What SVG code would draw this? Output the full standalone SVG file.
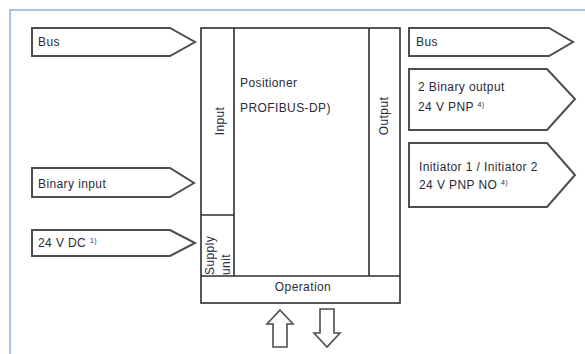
<svg xmlns="http://www.w3.org/2000/svg" width="585" height="354" viewBox="0 0 585 354">
<style>
.frame{fill:none;stroke:#8fb0dc;stroke-width:1.5}
.box{fill:#fff;stroke:#2e2e2e;stroke-width:1.6}
.ln{stroke:#2e2e2e;stroke-width:1.6;fill:none}
.sig{fill:#fff;stroke:#4d4d4d;stroke-width:2;stroke-linejoin:miter}
.harr{fill:#fff;stroke:#4d4d4d;stroke-width:1.6}
text{font-family:"Liberation Sans",Arial,sans-serif;font-size:12px;fill:#2a2a3a;letter-spacing:0.4px}
.sup{font-size:7px}
</style>
<rect class="frame" x="10" y="10" width="600" height="400"/>

<g id="positioner">
<rect class="box" x="201" y="28" width="199" height="275"/>
<line class="ln" x1="234" y1="28" x2="234" y2="276"/>
<line class="ln" x1="369" y1="28" x2="369" y2="276"/>
<line class="ln" x1="201" y1="276" x2="400" y2="276"/>
<line class="ln" x1="201" y1="215" x2="234" y2="215"/>
<text x="240" y="87">Positioner</text>
<text x="240" y="112">PROFIBUS-DP)</text>
</g>
<g id="input"><text transform="translate(224,121) rotate(-90)" text-anchor="middle">Input</text></g>
<g id="output"><text transform="translate(388,116) rotate(-90)" text-anchor="middle">Output</text></g>
<g id="supply"><text transform="translate(214,275) rotate(-90)">Supply</text><text transform="translate(230,275) rotate(-90)">unit</text></g>
<g id="operation"><text x="303" y="291" text-anchor="middle">Operation</text></g>

<g id="in-bus"><polygon class="sig" points="32,28 170,28 195,42 170,56 32,56"/><text x="38" y="46">Bus</text></g>
<g id="in-binary"><polygon class="sig" points="32,168 170,168 194,183 170,197 32,197"/><text x="38" y="188">Binary input</text></g>
<g id="in-24vdc"><polygon class="sig" points="32,230 170,230 195,243 170,256 32,256"/><text x="38" y="247">24 V DC <tspan class="sup" dy="-4">1)</tspan></text></g>

<g id="out-bus"><polygon class="sig" points="409,28 549,28 573,42 549,56 409,56"/><text x="416" y="46">Bus</text></g>
<g id="out-binary"><polygon class="sig" points="409,69 547,69 575,99 547,130 409,130"/><text x="418" y="91">2 Binary output</text><text x="418" y="111">24 V PNP <tspan class="sup" dy="-4">4)</tspan></text></g>
<g id="out-initiator"><polygon class="sig" points="409,143 547,143 575,175 547,207 409,207"/><text x="419" y="171">Initiator 1 / Initiator 2</text><text x="419" y="189">24 V PNP NO <tspan class="sup" dy="-4">4)</tspan></text></g>

<g id="connectors">
<polygon class="harr" points="280,310 293,324 287,324 287,347 273,347 273,324 267,324"/>
<polygon class="harr" points="320,309 334,309 334,333 340,333 327,347 314,333 320,333"/>
</g>
</svg>
